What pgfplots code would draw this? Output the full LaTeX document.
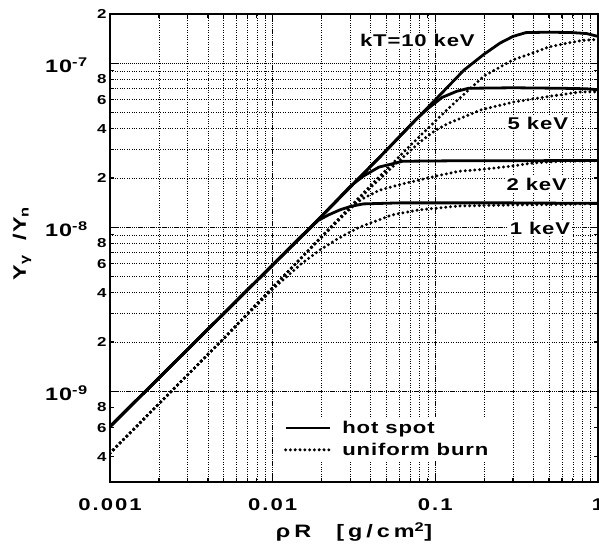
\documentclass[border=0pt]{standalone}
\usepackage{fontspec}
\setmainfont{Liberation Sans}[FakeStretch=1.3, LetterSpace=5]
\usepackage{pgfplots}
\pgfplotsset{compat=1.18}

\pgfplotsset{
  hot/.style={black, line width=2.8pt, line join=round},
  unif/.style={black, line width=3.3pt, line cap=round, dash pattern=on 0pt off 4.8pt},
}
\tikzset{
  declab/.style={anchor=east, inner sep=0pt, xshift=-22pt, yshift=-2pt,
    font=\fontsize{18}{20}\selectfont\bfseries},
}
\newcommand{\lbl}{\fontsize{17}{19}\selectfont\bfseries}

\begin{document}
\begin{tikzpicture}
\begin{axis}[
  scale only axis,
  width=488pt, height=468pt,
  xmode=log, ymode=log,
  xmin=1e-3, xmax=1,
  ymin=2.8e-10, ymax=2e-7,
  clip mode=individual,
  grid=both,
  major grid style={black, line width=0.75pt, dash pattern=on 1pt off 1pt},
  minor grid style={black, line width=0.6pt, dash pattern=on 1.1pt off 1.3pt},
  axis line style={line width=2pt},
  tick align=inside,
  major tick length=8pt, minor tick length=4pt,
  every tick/.style={black, line width=1.2pt},
  xtick={0.001,0.01,0.1,1},
  xticklabels={0.001,0.01,0.1,1},
  x tick label style={font=\lbl\addfontfeatures{LetterSpace=12}, anchor=center, yshift=-23pt},
  ytick={1e-9,1e-8,1e-7},
  yticklabels={,,},
  y tick label style={font=\fontsize{13}{15}\selectfont\bfseries, anchor=east},
  extra y ticks={4e-10,6e-10,8e-10,2e-9,4e-9,6e-9,8e-9,2e-8,4e-8,6e-8,8e-8,2e-7},
  extra y tick labels={4,6,8,2,4,6,8,2,4,6,8,2},
  extra y tick style={major tick length=4pt, grid=none},
  xlabel={\addfontfeatures{LetterSpace=22}ρR\hspace{1.4em}[g/cm\textsuperscript{2}]},
  xlabel style={font=\fontsize{18}{20}\selectfont\bfseries, at={(rel axis cs:0.5,0)},
    anchor=center, yshift=-50pt},
  ylabel={Y\textsubscript{γ} \ /Y\textsubscript{n}},
  ylabel style={font=\fontsize{18}{20}\selectfont\bfseries, at={(rel axis cs:0,0.51)},
    anchor=center, yshift=88pt},
  legend style={at={(rel axis cs:0.352,0.045)}, anchor=south west, draw=none,
    fill=white, font=\lbl, row sep=4pt, column sep=9pt, inner sep=2pt},
  legend cell align=left,
  legend image code/.code={\draw[#1] (0cm,0cm) -- (1.55cm,0cm);},
]
% hot spot, kT = 10 keV
\addplot[hot] coordinates {
  (0.001,6.1e-10) (0.01,5.9e-9) (0.02,1.17e-8) (0.05,2.95e-8) (0.1,6.0e-8)
  (0.15,9.1e-8) (0.2,1.14e-7) (0.25,1.33e-7) (0.3,1.46e-7) (0.36,1.54e-7)
  (0.5,1.55e-7) (0.7,1.54e-7) (0.85,1.52e-7) (1,1.46e-7)
};
\addlegendentry{hot spot}
% uniform burn, kT = 10 keV
\addplot[unif] coordinates {
  (0.001,4.2e-10) (0.005,2.1e-9) (0.01,4.3e-9) (0.02,8.8e-9) (0.04,1.8e-8)
  (0.07,3.15e-8) (0.12,5.3e-8) (0.2,8.4e-8) (0.3,1.05e-7) (0.4,1.16e-7)
  (0.5,1.26e-7) (0.65,1.33e-7) (0.8,1.38e-7) (1,1.40e-7)
};
\addlegendentry{uniform burn}
% 5 keV
\addplot[hot, forget plot] coordinates {
  (0.001,6.1e-10) (0.01,5.9e-9) (0.02,1.17e-8) (0.05,2.95e-8) (0.075,4.5e-8)
  (0.09,5.3e-8) (0.11,6.2e-8) (0.135,6.75e-8) (0.16,7.05e-8) (0.3,7.1e-8)
  (0.6,7.05e-8) (0.85,7.0e-8) (1,6.9e-8)
};
\addplot[unif, forget plot] coordinates {
  (0.001,4.2e-10) (0.005,2.1e-9) (0.01,4.3e-9) (0.02,8.8e-9) (0.04,1.75e-8)
  (0.06,2.55e-8) (0.08,3.3e-8) (0.1,3.9e-8) (0.12,4.3e-8) (0.19,5.2e-8)
  (0.3,5.8e-8) (0.48,6.25e-8) (0.78,6.7e-8) (1,6.7e-8)
};
% 2 keV
\addplot[hot, forget plot] coordinates {
  (0.001,6.1e-10) (0.01,5.9e-9) (0.02,1.17e-8) (0.03,1.78e-8) (0.036,2.05e-8)
  (0.045,2.33e-8) (0.063,2.53e-8) (0.15,2.55e-8) (0.4,2.55e-8) (1,2.56e-8)
};
\addplot[unif, forget plot] coordinates {
  (0.001,4.2e-10) (0.005,2.1e-9) (0.01,4.3e-9) (0.02,8.7e-9) (0.03,1.3e-8)
  (0.035,1.48e-8) (0.045,1.68e-8) (0.06,1.82e-8) (0.1,2.05e-8) (0.14,2.2e-8)
  (0.19,2.25e-8) (0.3,2.37e-8) (0.4,2.47e-8) (0.6,2.53e-8) (1,2.55e-8)
};
% 1 keV
\addplot[hot, forget plot] coordinates {
  (0.001,6.1e-10) (0.01,5.9e-9) (0.019,1.1e-8) (0.022,1.19e-8) (0.026,1.28e-8)
  (0.03,1.34e-8) (0.036,1.39e-8) (0.06,1.41e-8) (0.3,1.41e-8) (1,1.40e-8)
};
\addplot[unif, forget plot] coordinates {
  (0.001,4.2e-10) (0.005,2.1e-9) (0.01,4.2e-9) (0.015,6.0e-9) (0.02,7.4e-9)
  (0.025,8.5e-9) (0.034,1.0e-8) (0.054,1.19e-8) (0.08,1.28e-8) (0.14,1.35e-8)
  (0.3,1.37e-8) (0.6,1.38e-8) (1,1.4e-8)
};
\node[fill=white, inner sep=1.5pt, font=\lbl] at (axis cs:0.0776,1.38e-7) {kT=10 keV};
\node[fill=white, inner sep=1.5pt, font=\lbl] at (axis cs:0.427,4.33e-8) {5 keV};
\node[fill=white, inner sep=1.5pt, font=\lbl] at (axis cs:0.42,1.84e-8) {2 keV};
\node[fill=white, inner sep=1.5pt, font=\lbl] at (axis cs:0.44,9.9e-9) {1 keV};
% decade tick labels
\node[declab] at (axis cs:0.001,1e-9) {10\textsuperscript{-9}};
\node[declab] at (axis cs:0.001,1e-8) {10\textsuperscript{-8}};
\node[declab] at (axis cs:0.001,1e-7) {10\textsuperscript{-7}};
\end{axis}
\pgfresetboundingbox
\path ([xshift=-110pt,yshift=-66pt]current axis.south west)
  rectangle ([xshift=1pt,yshift=14pt]current axis.north east);
\end{tikzpicture}
\end{document}
